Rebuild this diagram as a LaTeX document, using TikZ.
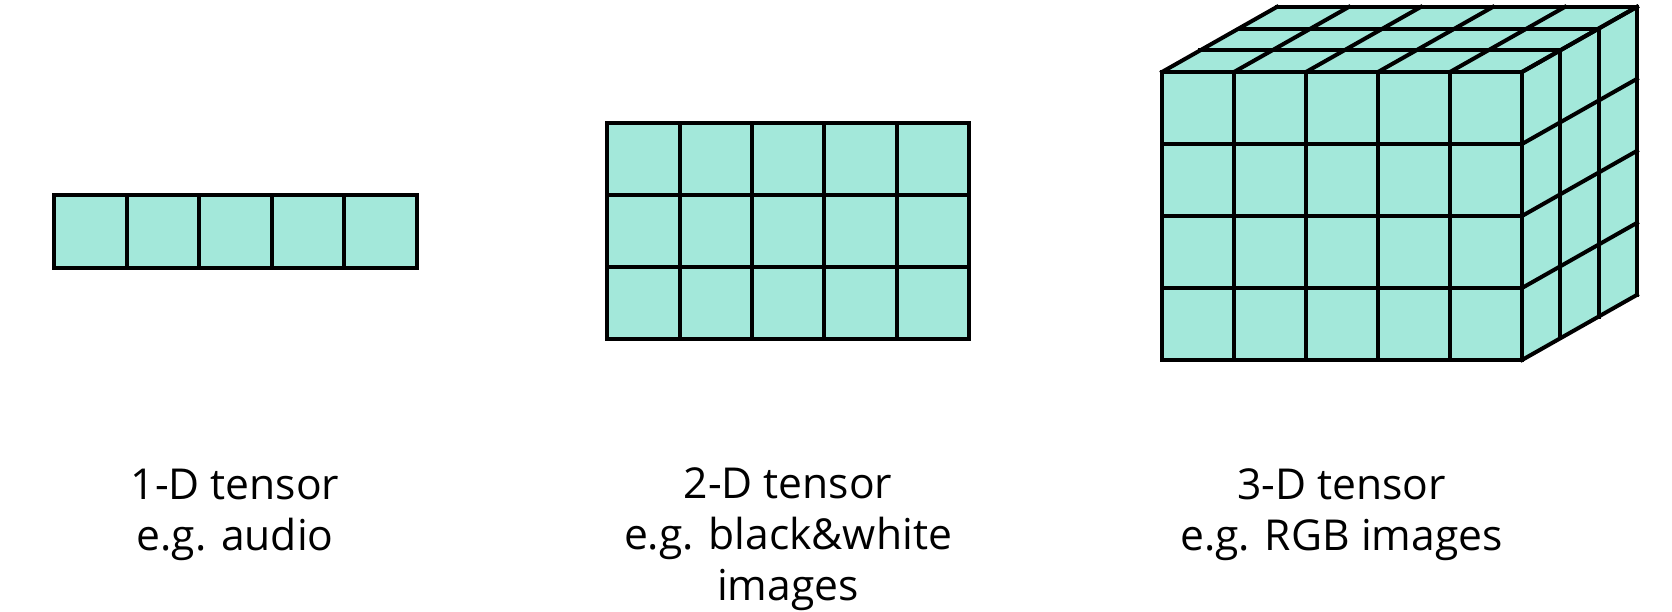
\documentclass[tikz,border=0pt]{standalone}
\usepackage{fontspec}
\setmainfont{Open Sans}
\definecolor{cellfill}{RGB}{163,232,218}
\tikzset{
  gridline/.style={line width=4pt, draw=black, line cap=rect, line join=miter},
  facefill/.style={fill=cellfill},
  caption/.style={align=center, anchor=base, inner sep=0pt, font=\fontsize{42.6}{51}\selectfont}
}
\begin{document}
\begin{tikzpicture}[x=1pt,y=-1pt]
\useasboundingbox (0,0) rectangle (1672,612);
% ---------- 1-D tensor ----------
\def\ax{54}\def\ay{195.3}\def\aw{72.5}\def\ah{72.5}
\fill[facefill] (\ax,\ay) rectangle ({\ax+5*\aw},{\ay+\ah});
\foreach \i in {0,...,5} \draw[gridline] ({\ax+\i*\aw},\ay) -- ({\ax+\i*\aw},{\ay+\ah});
\foreach \j in {0,1} \draw[gridline] (\ax,{\ay+\j*\ah}) -- ({\ax+5*\aw},{\ay+\j*\ah});
% ---------- 2-D tensor ----------
\def\bx{607.3}\def\by{123.3}\def\bw{72.35}\def\bh{72}
\fill[facefill] (\bx,\by) rectangle ({\bx+5*\bw},{\by+3*\bh});
\foreach \i in {0,...,5} \draw[gridline] ({\bx+\i*\bw},\by) -- ({\bx+\i*\bw},{\by+3*\bh});
\foreach \j in {0,...,3} \draw[gridline] (\bx,{\by+\j*\bh}) -- ({\bx+5*\bw},{\by+\j*\bh});
% ---------- 3-D tensor ----------
\def\cx{1162}\def\cy{72}\def\cw{72}\def\dx{38.3}\def\dy{21.7}
% faces
\fill[facefill] (\cx,\cy) rectangle ({\cx+5*\cw},{\cy+4*\cw});
\fill[facefill] (\cx,\cy) -- ({\cx+5*\cw},\cy) -- ({\cx+5*\cw+3*\dx},{\cy-3*\dy}) -- ({\cx+3*\dx},{\cy-3*\dy}) -- cycle;
\fill[facefill] ({\cx+5*\cw},\cy) -- ({\cx+5*\cw+3*\dx},{\cy-3*\dy}) -- ({\cx+5*\cw+3*\dx},{\cy+4*\cw-3*\dy}) -- ({\cx+5*\cw},{\cy+4*\cw}) -- cycle;
% front grid
\foreach \i in {0,...,5} \draw[gridline] ({\cx+\i*\cw},\cy) -- ({\cx+\i*\cw},{\cy+4*\cw});
\foreach \j in {0,...,4} \draw[gridline] (\cx,{\cy+\j*\cw}) -- ({\cx+5*\cw},{\cy+\j*\cw});
% top grid
\foreach \i in {0,...,5} \draw[gridline] ({\cx+\i*\cw},\cy) -- ({\cx+\i*\cw+3*\dx},{\cy-3*\dy});
\foreach \k in {1,2,3} \draw[gridline] ({\cx+\k*\dx},{\cy-\k*\dy}) -- ({\cx+5*\cw+\k*\dx},{\cy-\k*\dy});
% right grid
\foreach \k in {1,2,3} \draw[gridline] ({\cx+5*\cw+\k*\dx},{\cy-\k*\dy}) -- ({\cx+5*\cw+\k*\dx},{\cy+4*\cw-\k*\dy});
\foreach \j in {0,...,4} \draw[gridline] ({\cx+5*\cw},{\cy+\j*\cw}) -- ({\cx+5*\cw+3*\dx},{\cy+\j*\cw-3*\dy});
% ---------- captions (anchor base = baseline of last line) ----------
\node[caption] (cap1) at (235,550) {1-D tensor\\e.g. audio};
\node[caption] (cap2) at (788,600) {2-D tensor\\e.g. black\&white\\images};
\node[caption] (cap3) at (1341.5,550) {3-D tensor\\e.g. RGB images};
\end{tikzpicture}
\end{document}
